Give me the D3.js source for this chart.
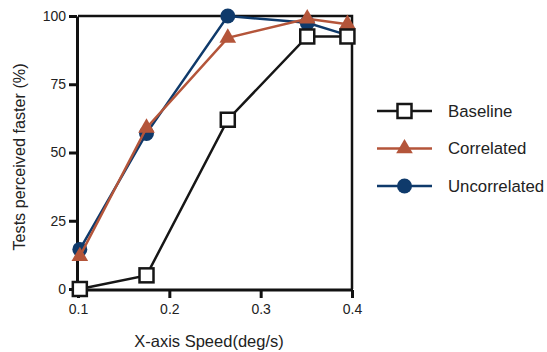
<!DOCTYPE html>
<html>
<head>
<meta charset="utf-8">
<script src="https://cdn.jsdelivr.net/npm/d3@7"></script>
<style>
  body { margin: 0; background: #fff; }
  svg { display: block; font-family: 'Liberation Sans', Arial, sans-serif; }
</style>
</head>
<body>
<div id="chart"></div>
<script>
const speeds = [0.102, 0.175, 0.264, 0.351, 0.395]
const baseline = [0, 5, 62, 92.5, 92.5]
const correlated = [12, 59, 92, 99, 97]
const uncorrelated = [14.5, 57, 100, 97.5, 93]
const xTicks = [0.1, 0.2, 0.3, 0.4]
const yTicks = [0, 25, 50, 75, 100]

const width = 547
const height = 352
const margin = { top: 16, right: 196, bottom: 62, left: 78 }

const series = [
  { name: 'Baseline', values: baseline, color: '#161616', shape: 'square' },
  { name: 'Correlated', values: correlated, color: '#b4553a', shape: 'triangle' },
  { name: 'Uncorrelated', values: uncorrelated, color: '#0f3a6b', shape: 'circle' },
]

const svg = d3
  .select('#chart')
  .append('svg')
  .attr('width', width)
  .attr('height', height)

const x = d3.scaleLinear().domain([0.1, 0.4]).range([margin.left, width - margin.right + 1])
const y = d3.scaleLinear().domain([0, 100]).range([height - margin.bottom - 1, margin.top])

// frame (top + right)
svg
  .append('path')
  .attr('d', `M${x(0.1)},${y(100)}H${x(0.4)}V${y(0)}`)
  .attr('fill', 'none')
  .attr('stroke', '#111')
  .attr('stroke-width', 2.5)

const yAxis = svg
  .append('g')
  .attr('transform', `translate(${x(0.1) - 1},0)`)
  .call(d3.axisLeft(y).tickValues(yTicks).tickSize(8).tickPadding(3).tickSizeOuter(0))
yAxis.select('.domain').attr('stroke', '#111').attr('stroke-width', 3)
yAxis.selectAll('.tick line').attr('stroke', '#111').attr('stroke-width', 3)
yAxis.selectAll('text').attr('font-size', 14).attr('fill', '#222')

const xAxis = svg
  .append('g')
  .attr('transform', `translate(0,${y(0) + 1})`)
  .call(
    d3
      .axisBottom(x)
      .tickValues(xTicks)
      .tickFormat(d3.format('.1f'))
      .tickSize(8)
      .tickPadding(6)
      .tickSizeOuter(0),
  )
xAxis.select('.domain').attr('stroke', '#111').attr('stroke-width', 3).attr('d', `M${x(0.1) - 3},0H${x(0.4) + 1}`)
xAxis.selectAll('.tick line').attr('stroke', '#111').attr('stroke-width', 3)
xAxis.selectAll('text').attr('font-size', 14).attr('fill', '#222')

svg
  .append('text')
  .attr('x', (x(0.1) + x(0.4)) / 2 - 6)
  .attr('y', 347)
  .attr('text-anchor', 'middle')
  .attr('font-size', 16.5)
  .attr('fill', '#222')
  .text('X-axis Speed(deg/s)')

svg
  .append('text')
  .attr('transform', `translate(25,157) rotate(-90)`)
  .attr('text-anchor', 'middle')
  .attr('font-size', 16.2)
  .attr('fill', '#222')
  .text('Tests perceived faster (%)')

function drawMarker(g, shape, color, cx, cy) {
  if (shape === 'square') {
    g.append('rect')
      .attr('x', cx - 7)
      .attr('y', cy - 7)
      .attr('width', 14)
      .attr('height', 14)
      .attr('fill', '#fff')
      .attr('stroke', color)
      .attr('stroke-width', 2.5)
  } else if (shape === 'triangle') {
    g.append('path')
      .attr('d', d3.symbol(d3.symbolTriangle, 120)())
      .attr('transform', `translate(${cx},${cy})`)
      .attr('fill', color)
  } else {
    g.append('circle').attr('cx', cx).attr('cy', cy).attr('r', 7.5).attr('fill', color)
  }
}

const line = d3
  .line()
  .x((d, i) => x(speeds[i]))
  .y((d) => y(d))

// draw uncorrelated first, baseline last
series
  .slice()
  .reverse()
  .forEach((s) => {
    const g = svg.append('g')
    g.append('path')
      .attr('d', line(s.values))
      .attr('fill', 'none')
      .attr('stroke', s.color)
      .attr('stroke-width', 2.5)
    s.values.forEach((v, i) => drawMarker(g, s.shape, s.color, x(speeds[i]), y(v)))
  })

// legend
const legend = svg
  .selectAll('.legend')
  .data(series)
  .join('g')
  .attr('class', 'legend')
  .attr('transform', (d, i) => `translate(377,${111 + i * 37.5})`)

legend
  .append('line')
  .attr('x1', 0)
  .attr('x2', 55)
  .attr('stroke', (d) => d.color)
  .attr('stroke-width', 2.5)

legend.each(function (d) {
  drawMarker(d3.select(this), d.shape, d.color, 27.5, 0)
})

legend
  .append('text')
  .attr('x', 71)
  .attr('dy', '0.35em')
  .attr('font-size', 16.8)
  .attr('fill', '#222')
  .text((d) => d.name)
</script>
</body>
</html>
